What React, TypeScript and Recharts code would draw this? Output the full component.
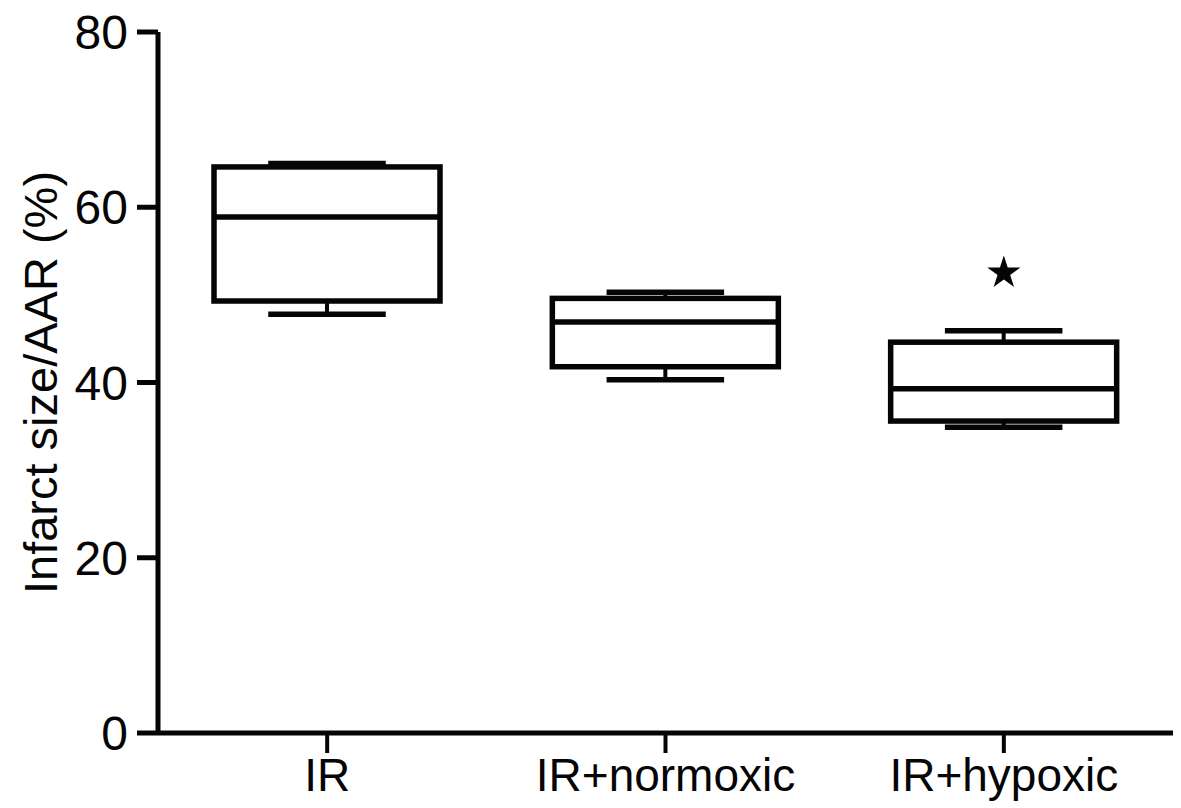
import React from "react";
import {
  ComposedChart,
  Bar,
  Scatter,
  XAxis,
  YAxis,
  Symbols,
} from "recharts";

// values (Infarct size / AAR, %)
const groups = ["IR", "IR+normoxic", "IR+hypoxic"];
const mins = [47.8, 40.3, 34.9];
const q1s = [49.3, 41.8, 35.6];
const medians = [58.9, 46.9, 39.3];
const q3s = [64.6, 49.6, 44.6];
const maxs = [65.0, 50.3, 45.9];
const starMarks: (number | null)[] = [null, null, 52.5];
const yTicks = [0, 20, 40, 60, 80];

const data = groups.map((g, i) => ({
  group: g,
  range: [mins[i], maxs[i]],
  min: mins[i],
  q1: q1s[i],
  median: medians[i],
  q3: q3s[i],
  max: maxs[i],
  star: starMarks[i],
}));

const INK = "#050505";
const FONT = "'Liberation Sans', Arial, Helvetica, sans-serif";

const BoxShape = (props: any) => {
  const { x, y, width, height, payload } = props;
  if (!payload || !isFinite(y) || !isFinite(height)) return null;
  const { min, q1, median, q3, max } = payload;
  // bar spans [min, max]; map the other stats onto the same scale
  const toY = (v: number) => y + ((max - v) / (max - min)) * height;
  const cx = x + width / 2;
  const capHalf = width * 0.26;
  return (
    <g>
      <line x1={cx} x2={cx} y1={toY(max)} y2={toY(q3)} stroke={INK} strokeWidth={4} />
      <line x1={cx} x2={cx} y1={toY(q1)} y2={toY(min)} stroke={INK} strokeWidth={4} />
      <line x1={cx - capHalf} x2={cx + capHalf} y1={toY(max)} y2={toY(max)} stroke={INK} strokeWidth={5.5} />
      <line x1={cx - capHalf} x2={cx + capHalf} y1={toY(min)} y2={toY(min)} stroke={INK} strokeWidth={5.5} />
      <rect
        x={x}
        y={toY(q3)}
        width={width}
        height={toY(q1) - toY(q3)}
        fill="#fff"
        stroke={INK}
        strokeWidth={5.5}
      />
      <line x1={x} x2={x + width} y1={toY(median)} y2={toY(median)} stroke={INK} strokeWidth={5.5} />
    </g>
  );
};

const StarShape = (props: any) => {
  const { cx, cy } = props;
  if (!isFinite(cx) || !isFinite(cy)) return null;
  return <Symbols type="star" size={340} cx={cx} cy={cy} fill={INK} />;
};

const YLabel = (props: any) => {
  const vb = props.viewBox || { x: 0, y: 32, width: 158, height: 701 };
  const lx = vb.x + 40;
  const ly = vb.y + vb.height / 2;
  return (
    <text
      x={lx}
      y={ly}
      transform={`rotate(-90, ${lx}, ${ly})`}
      textAnchor="middle"
      dominantBaseline="central"
      fontSize={47}
      fontFamily={FONT}
      fill={INK}
    >
      Infarct size/AAR (%)
    </text>
  );
};

export default function App() {
  return (
    <div style={{ position: "absolute", left: 0, top: 0, background: "#fff" }}>
      <ComposedChart
        width={1181}
        height={808}
        data={data}
        margin={{ top: 32, right: 8, bottom: 0, left: 0 }}
      >
        <XAxis
          dataKey="group"
          height={75}
          axisLine={{ stroke: INK, strokeWidth: 5 }}
          tickLine={{ stroke: INK, strokeWidth: 4 }}
          tickSize={20}
          tickMargin={5}
          tick={{ fill: INK, fontSize: 46, fontFamily: FONT }}
          interval={0}
        />
        <YAxis
          width={158}
          domain={[0, 80]}
          ticks={yTicks}
          axisLine={{ stroke: INK, strokeWidth: 5 }}
          tickLine={{ stroke: INK, strokeWidth: 5 }}
          tickSize={21}
          tickMargin={9}
          tick={{ fill: INK, fontSize: 48, fontFamily: FONT }}
          label={<YLabel />}
        />
        <Bar
          dataKey="range"
          barSize={226}
          shape={<BoxShape />}
          isAnimationActive={false}
        />
        <Scatter
          dataKey="star"
          shape={<StarShape />}
          isAnimationActive={false}
        />
      </ComposedChart>
    </div>
  );
}
